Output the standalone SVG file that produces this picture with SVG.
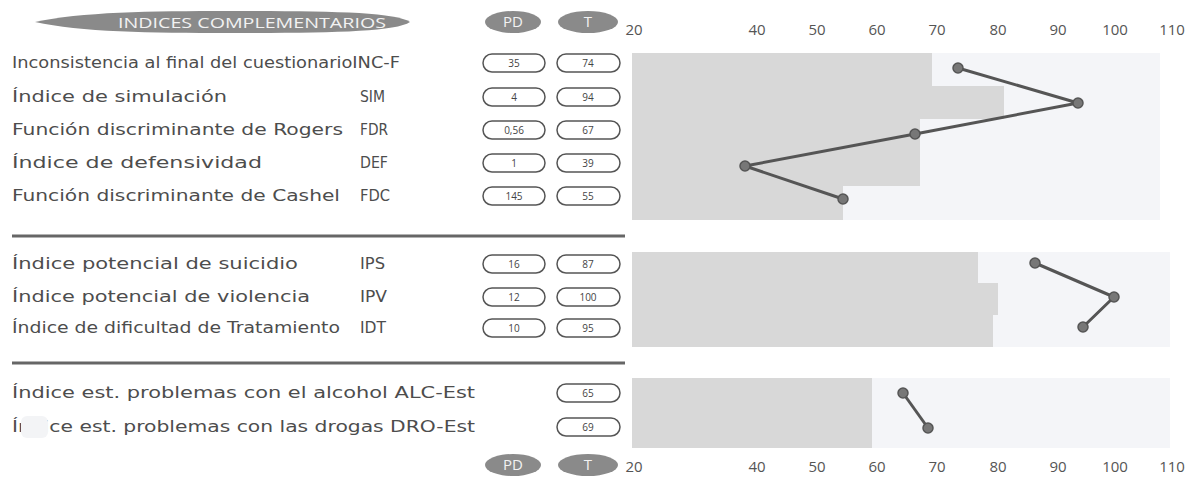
<svg xmlns="http://www.w3.org/2000/svg" width="1194" height="477" viewBox="0 0 1194 477">
<style>
.lbl{font-family:"DejaVu Sans","Open Sans",sans-serif;font-size:16.5px;fill:#4d4d4d}
.ax{font-family:"Open Sans","DejaVu Sans",sans-serif;font-size:15px;fill:#555;text-anchor:middle}
.pill{fill:#fff;stroke:#555;stroke-width:1.5}
.pv{font-family:"Open Sans","DejaVu Sans",sans-serif;font-size:10px;fill:#444;text-anchor:middle}
.hp{fill:#8a8a8a}
.ht{font-family:"Open Sans","DejaVu Sans",sans-serif;font-size:15px;fill:#f2f2f2;text-anchor:middle}
.light{fill:#f4f5f8}
.dark{fill:#d8d8d8}
.sep{stroke:#666;stroke-width:3}
.ln{fill:none;stroke:#555;stroke-width:3;stroke-linejoin:round}
.pt{fill:#777;stroke:#555;stroke-width:1.5}
</style>
<rect width="1194" height="477" fill="#fff"/>
<g id="header">
<path class="hp" d="M35,22 C80,12 150,11 230,11 C330,11 395,12 410,22 C395,32 330,33 230,33 C150,33 80,32 35,22 Z"/>
<text class="ht" x="252" y="28" textLength="268" lengthAdjust="spacingAndGlyphs">INDICES COMPLEMENTARIOS</text>
<ellipse class="hp" cx="513" cy="22" rx="28" ry="11"/>
<text class="ht" x="513" y="27" font-size="14">PD</text>
<ellipse class="hp" cx="588" cy="22" rx="30" ry="11"/>
<text class="ht" x="588" y="27" font-size="14">T</text>
</g>
<g id="axis-top">
<text class="ax" x="634" y="35">20</text>
<text class="ax" x="757" y="35">40</text>
<text class="ax" x="817" y="35">50</text>
<text class="ax" x="877" y="35">60</text>
<text class="ax" x="937" y="35">70</text>
<text class="ax" x="998" y="35">80</text>
<text class="ax" x="1058" y="35">90</text>
<text class="ax" x="1115" y="35">100</text>
<text class="ax" x="1172" y="35">110</text>
</g>
<g id="bars">
<rect class="light" x="632" y="53" width="528" height="167"/>
<rect class="dark" x="632" y="53" width="300" height="33"/>
<rect class="dark" x="632" y="86" width="372" height="33"/>
<rect class="dark" x="632" y="119" width="288" height="67"/>
<rect class="dark" x="632" y="186" width="211" height="34"/>
<rect class="light" x="632" y="252" width="538" height="95"/>
<rect class="dark" x="632" y="252" width="346" height="31"/>
<rect class="dark" x="632" y="283" width="366" height="32"/>
<rect class="dark" x="632" y="315" width="361" height="32"/>
<rect class="light" x="632" y="378" width="538" height="70"/>
<rect class="dark" x="632" y="378" width="240" height="70"/>
</g>
<g id="separators">
<line class="sep" x1="12" y1="236" x2="625" y2="236"/>
<line class="sep" x1="12" y1="363" x2="625" y2="363"/>
</g>
<g id="row-INC-F">
<text class="lbl" x="12" y="68" textLength="388" lengthAdjust="spacingAndGlyphs">Inconsistencia al final del cuestionarioINC-F</text>
<rect class="pill" x="483" y="54" width="62" height="18" rx="9"/><text class="pv" x="514" y="67">35</text>
<rect class="pill" x="557" y="54" width="63" height="18" rx="9"/><text class="pv" x="588" y="67">74</text>
</g>
<g id="row-SIM">
<text class="lbl" x="12" y="102" textLength="215" lengthAdjust="spacingAndGlyphs">Índice de simulación</text><text class="lbl" x="360" y="102" textLength="25" lengthAdjust="spacingAndGlyphs">SIM</text>
<rect class="pill" x="483" y="88" width="62" height="18" rx="9"/><text class="pv" x="514" y="101">4</text>
<rect class="pill" x="557" y="88" width="63" height="18" rx="9"/><text class="pv" x="588" y="101">94</text>
</g>
<g id="row-FDR">
<text class="lbl" x="12" y="135" textLength="331" lengthAdjust="spacingAndGlyphs">Función discriminante de Rogers</text><text class="lbl" x="360" y="135" textLength="28" lengthAdjust="spacingAndGlyphs">FDR</text>
<rect class="pill" x="483" y="121" width="62" height="18" rx="9"/><text class="pv" x="514" y="134">0,56</text>
<rect class="pill" x="557" y="121" width="63" height="18" rx="9"/><text class="pv" x="588" y="134">67</text>
</g>
<g id="row-DEF">
<text class="lbl" x="12" y="168" textLength="250" lengthAdjust="spacingAndGlyphs">Índice de defensividad</text><text class="lbl" x="360" y="168" textLength="28" lengthAdjust="spacingAndGlyphs">DEF</text>
<rect class="pill" x="483" y="154" width="62" height="18" rx="9"/><text class="pv" x="514" y="167">1</text>
<rect class="pill" x="557" y="154" width="63" height="18" rx="9"/><text class="pv" x="588" y="167">39</text>
</g>
<g id="row-FDC">
<text class="lbl" x="12" y="201" textLength="328" lengthAdjust="spacingAndGlyphs">Función discriminante de Cashel</text><text class="lbl" x="360" y="201" textLength="30" lengthAdjust="spacingAndGlyphs">FDC</text>
<rect class="pill" x="483" y="187" width="62" height="18" rx="9"/><text class="pv" x="514" y="200">145</text>
<rect class="pill" x="557" y="187" width="63" height="18" rx="9"/><text class="pv" x="588" y="200">55</text>
</g>
<g id="row-IPS">
<text class="lbl" x="12" y="269" textLength="286" lengthAdjust="spacingAndGlyphs">Índice potencial de suicidio</text><text class="lbl" x="360" y="269" textLength="25" lengthAdjust="spacingAndGlyphs">IPS</text>
<rect class="pill" x="483" y="255" width="62" height="18" rx="9"/><text class="pv" x="514" y="268">16</text>
<rect class="pill" x="557" y="255" width="63" height="18" rx="9"/><text class="pv" x="588" y="268">87</text>
</g>
<g id="row-IPV">
<text class="lbl" x="12" y="302" textLength="298" lengthAdjust="spacingAndGlyphs">Índice potencial de violencia</text><text class="lbl" x="360" y="302" textLength="27" lengthAdjust="spacingAndGlyphs">IPV</text>
<rect class="pill" x="483" y="288" width="62" height="18" rx="9"/><text class="pv" x="514" y="301">12</text>
<rect class="pill" x="557" y="288" width="63" height="18" rx="9"/><text class="pv" x="588" y="301">100</text>
</g>
<g id="row-IDT">
<text class="lbl" x="12" y="333" textLength="328" lengthAdjust="spacingAndGlyphs">Índice de dificultad de Tratamiento</text><text class="lbl" x="360" y="333" textLength="26" lengthAdjust="spacingAndGlyphs">IDT</text>
<rect class="pill" x="483" y="319" width="62" height="18" rx="9"/><text class="pv" x="514" y="332">10</text>
<rect class="pill" x="557" y="319" width="63" height="18" rx="9"/><text class="pv" x="588" y="332">95</text>
</g>
<g id="row-ALC">
<text class="lbl" x="12" y="398" textLength="463" lengthAdjust="spacingAndGlyphs">Índice est. problemas con el alcohol ALC-Est</text>
<rect class="pill" x="557" y="384" width="63" height="18" rx="9"/><text class="pv" x="588" y="397">65</text>
</g>
<g id="row-DRO">
<text class="lbl" x="12" y="432" textLength="463" lengthAdjust="spacingAndGlyphs">Índice est. problemas con las drogas DRO-Est</text>
<rect x="21" y="416" width="27" height="22" rx="6" fill="#f3f4f6"/>
<rect class="pill" x="557" y="418" width="63" height="18" rx="9"/><text class="pv" x="588" y="431">69</text>
</g>
<g id="footer">
<ellipse class="hp" cx="513" cy="465" rx="28" ry="11"/>
<text class="ht" x="513" y="470" font-size="14">PD</text>
<ellipse class="hp" cx="588" cy="465" rx="30" ry="11"/>
<text class="ht" x="588" y="470" font-size="14">T</text>
<text class="ax" x="634" y="472">20</text>
<text class="ax" x="757" y="472">40</text>
<text class="ax" x="817" y="472">50</text>
<text class="ax" x="877" y="472">60</text>
<text class="ax" x="937" y="472">70</text>
<text class="ax" x="998" y="472">80</text>
<text class="ax" x="1058" y="472">90</text>
<text class="ax" x="1115" y="472">100</text>
<text class="ax" x="1172" y="472">110</text>
</g>
<g id="connectors">
<polyline class="ln" points="958,68 1078,103 915,134 745,166 843,199"/>
<polyline class="ln" points="1035,263 1114,297 1083,327"/>
<polyline class="ln" points="903,393 928,428"/>
</g>
<g id="points">
<circle class="pt" cx="958" cy="68" r="5"/>
<circle class="pt" cx="1078" cy="103" r="5"/>
<circle class="pt" cx="915" cy="134" r="5"/>
<circle class="pt" cx="745" cy="166" r="5"/>
<circle class="pt" cx="843" cy="199" r="5"/>
<circle class="pt" cx="1035" cy="263" r="5"/>
<circle class="pt" cx="1114" cy="297" r="5"/>
<circle class="pt" cx="1083" cy="327" r="5"/>
<circle class="pt" cx="903" cy="393" r="5"/>
<circle class="pt" cx="928" cy="428" r="5"/>
</g>
</svg>
